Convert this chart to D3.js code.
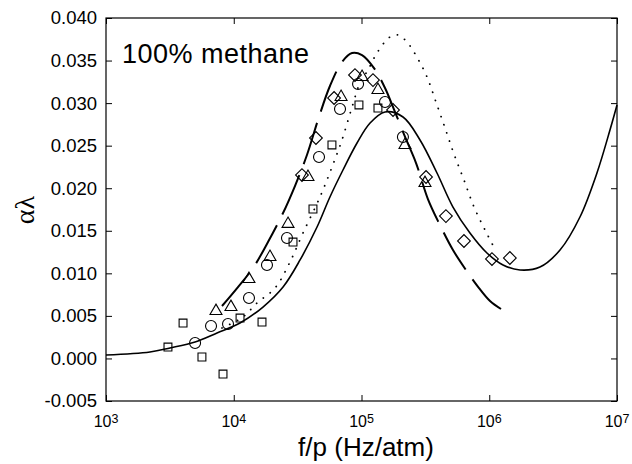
<!DOCTYPE html>
<html>
<head>
<meta charset="utf-8">
<script src="https://cdn.jsdelivr.net/npm/d3@7"></script>
<style>
  body { margin: 0; background: #fff; }
  text { font-family: "Liberation Sans", Arial, sans-serif; fill: #000; }
</style>
</head>
<body>
<div id="chart"></div>
<script>
// tick values
var xTicks = [1e3, 1e4, 1e5, 1e6, 1e7];
var yTicks = [-0.005, 0, 0.005, 0.01, 0.015, 0.02, 0.025, 0.03, 0.035, 0.04];

// solid curve
var solidF = [1000, 2208, 3170, 4977, 7396, 11190, 16940, 24320, 33040, 44870, 56620, 71610, 92260,
  116700, 152800, 211300, 287100, 389900, 520000, 706300, 959400, 1282000, 1742000, 2495000,
  3581000, 5129000, 6966000, 8810000, 10000000];
var solidV = [0.0004, 0.00076, 0.00123, 0.00193, 0.00299, 0.00416, 0.00604, 0.00839, 0.01157, 0.01544,
  0.01897, 0.02214, 0.02531, 0.02766, 0.02896, 0.02837, 0.02567, 0.02179, 0.01779, 0.01474,
  0.01239, 0.01098, 0.01039, 0.01074, 0.01274, 0.01662, 0.02179, 0.02684, 0.02978];

// dotted curve
var dotF = [8090, 11800, 15200, 21040, 27540, 34830, 47320, 58750, 70310, 84330, 97270, 112500,
  132100, 167100, 193200, 227000, 276700, 325800, 382800, 450800, 529700, 633900, 760300, 944100, 1130000];
var dotV = [0.00358, 0.00487, 0.00651, 0.00827, 0.01133, 0.01474, 0.01897, 0.02249, 0.02566, 0.02954,
  0.03236, 0.03389, 0.03589, 0.03777, 0.038, 0.03718, 0.03518, 0.03307, 0.03013, 0.02708,
  0.02402, 0.02097, 0.01779, 0.01486, 0.01262];

// dashed curve
var dashF = [8091, 10790, 14160, 18540, 24320, 30130, 37410, 46450, 56620, 70310, 84330, 100900,
  125300, 152800, 182800, 219300, 267300, 331100, 411100, 520000, 657700, 831800, 1014000, 1236000];
var dashV = [0.00616, 0.00839, 0.01063, 0.01368, 0.01709, 0.02026, 0.0239, 0.02837, 0.03201, 0.03483,
  0.03589, 0.03565, 0.03412, 0.03177, 0.02896, 0.02602, 0.02296, 0.01873, 0.01568, 0.01274,
  0.01039, 0.00827, 0.00675, 0.00581];

// measured points
var squareF = [3055, 4010, 5636, 8240, 11200, 16640, 29100, 41700, 58700, 95500, 134500];
var squareV = [0.00134, 0.00416, 0.00017, -0.00183, 0.00475, 0.00428, 0.01368, 0.01756, 0.02508, 0.02978, 0.02942];
var circleF = [4980, 6640, 9020, 13160, 18200, 26100, 46500, 67900, 94000, 152800, 211000];
var circleV = [0.00181, 0.00381, 0.00404, 0.0071, 0.01098, 0.01415, 0.02367, 0.02931, 0.03224, 0.03013, 0.02602];
var triangleF = [7260, 9510, 13150, 19220, 26600, 38100, 69200, 101000, 134500, 219000, 314000];
var triangleV = [0.00557, 0.00604, 0.00933, 0.01192, 0.0158, 0.02132, 0.03072, 0.03307, 0.03154, 0.02508, 0.02061];
var diamondF = [34200, 44000, 61000, 88900, 123000, 176500, 320000, 458000, 634000, 1050000, 1450000];
var diamondV = [0.02155, 0.0259, 0.0306, 0.0333, 0.03271, 0.02919, 0.02132, 0.01673, 0.0138, 0.01168, 0.0118];

var margin = { top: 18, right: 15, bottom: 63, left: 106 },
  width = 632 - margin.left - margin.right,
  height = 464 - margin.top - margin.bottom;

var svg = d3.select("#chart").append("svg")
  .attr("width", 632)
  .attr("height", 464);

var g = svg.append("g")
  .attr("transform", "translate(" + margin.left + "," + margin.top + ")");

var x = d3.scaleLog().domain([1e3, 1e7]).range([0, width]);
var y = d3.scaleLinear().domain([-0.005, 0.04]).range([height, 0]);

function zip(fs, vs) {
  return fs.map(function (f, i) { return [f, vs[i]]; });
}

// axes, ticks pointing inward
g.append("g")
  .attr("transform", "translate(0," + height + ")")
  .call(d3.axisBottom(x).tickValues(xTicks).tickSize(-6).tickFormat(""))
  .call(function (a) { a.select(".domain").remove(); });
g.append("g")
  .call(d3.axisTop(x).tickValues(xTicks).tickSize(-6).tickFormat(""))
  .call(function (a) { a.select(".domain").remove(); });
g.append("g")
  .call(d3.axisLeft(y).tickValues(yTicks).tickSize(-6).tickPadding(9)
    .tickFormat(function (d) { return d3.format(".3f")(d).replace("\u2212", "-"); }))
  .call(function (a) {
    a.select(".domain").remove();
    a.selectAll("text").style("font-size", "18.5px");
  });
g.append("g")
  .attr("transform", "translate(" + width + ",0)")
  .call(d3.axisRight(y).tickValues(yTicks).tickSize(-6).tickFormat(""))
  .call(function (a) { a.select(".domain").remove(); });

g.selectAll(".tick line").attr("stroke", "#000").attr("stroke-width", 1);

// x tick labels 10^n
var xl = g.append("g").selectAll("text")
  .data(xTicks)
  .enter()
  .append("text")
  .attr("x", function (d) { return x(d); })
  .attr("y", height + 26)
  .attr("text-anchor", "middle")
  .style("font-size", "16px");
xl.append("tspan").text("10");
xl.append("tspan")
  .attr("dy", "-0.3em")
  .style("font-size", "12.5px")
  .text(function (d) { return Math.round(Math.log10(d)); });

// frame
g.append("rect")
  .attr("width", width)
  .attr("height", height)
  .attr("fill", "none")
  .attr("stroke", "#000")
  .attr("stroke-width", 1.2);

var line = d3.line()
  .x(function (d) { return x(d[0]); })
  .y(function (d) { return y(d[1]); })
  .curve(d3.curveCatmullRom);

g.append("path")
  .datum(zip(solidF, solidV))
  .attr("d", line)
  .attr("fill", "none")
  .attr("stroke", "#000")
  .attr("stroke-width", 1.6);

g.append("path")
  .datum(zip(dotF, dotV))
  .attr("d", line)
  .attr("fill", "none")
  .attr("stroke", "#000")
  .attr("stroke-width", 1.8)
  .attr("stroke-linecap", "round")
  .attr("stroke-dasharray", "0.1,8.5");

g.append("path")
  .datum(zip(dashF, dashV))
  .attr("d", line)
  .attr("fill", "none")
  .attr("stroke", "#000")
  .attr("stroke-width", 2)
  .attr("stroke-dasharray", "43,12");

// markers
function drawMarkers(fs, vs, type, size, rot) {
  g.append("g")
    .selectAll("path")
    .data(zip(fs, vs))
    .enter()
    .append("path")
    .attr("d", d3.symbol().type(type).size(size))
    .attr("transform", function (d) {
      return "translate(" + x(d[0]) + "," + y(d[1]) + ") rotate(" + rot + ")";
    })
    .attr("fill", "none")
    .attr("stroke", "#000")
    .attr("stroke-width", 1.1);
}
drawMarkers(squareF, squareV, d3.symbolSquare, 62, 0);
drawMarkers(circleF, circleV, d3.symbolCircle, 95, 0);
drawMarkers(triangleF, triangleV, d3.symbolTriangle, 62, 0);
drawMarkers(diamondF, diamondV, d3.symbolSquare, 81, 45);

// texts
svg.append("text")
  .attr("x", 122)
  .attr("y", 63)
  .style("font-size", "27px")
  .style("letter-spacing", "0.5px")
  .text("100% methane");

svg.append("text")
  .attr("x", 366)
  .attr("y", 456)
  .attr("text-anchor", "middle")
  .style("font-size", "26px")
  .text("f/p (Hz/atm)");

svg.append("text")
  .attr("transform", "translate(34,210) rotate(-90)")
  .attr("text-anchor", "middle")
  .style("font-family", "'Liberation Serif', serif")
  .style("font-size", "28px")
  .text("\u03b1\u03bb");
</script>
</body>
</html>
